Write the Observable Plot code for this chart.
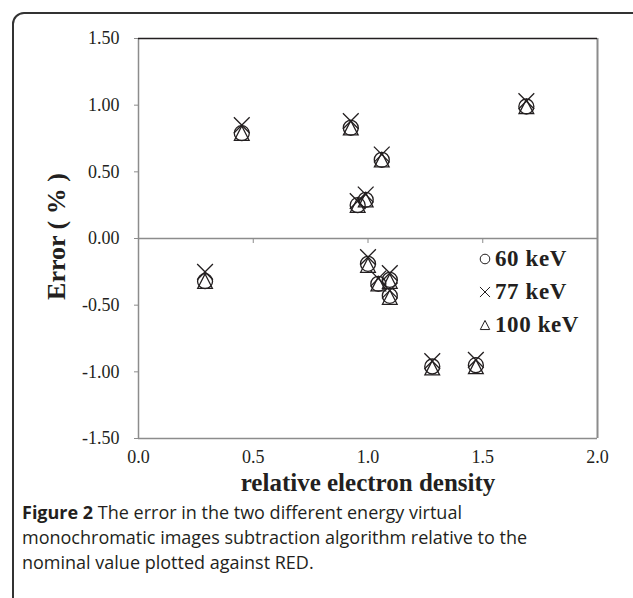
<!DOCTYPE html>
<html>
<head>
<meta charset="utf-8">
<script src="https://cdn.jsdelivr.net/npm/d3@7"></script>
<script src="https://cdn.jsdelivr.net/npm/@observablehq/plot@0.6"></script>
<style>
  html, body { margin: 0; padding: 0; background: #fff; width: 633px; height: 598px; overflow: hidden; }
  #frame { position: absolute; left: 12px; top: 12px; width: 700px; height: 700px; border: 2px solid #333; border-radius: 12px; box-sizing: border-box; }
  #chart { position: absolute; left: 0; top: 0; }
  #legend { position: absolute; left: 478px; top: 242px; font-family: "Liberation Serif", serif; font-weight: bold; font-size: 23px; letter-spacing: 0.6px; color: #231f20; }
  #legend .row { height: 33px; display: flex; align-items: center; white-space: nowrap; }
  #legend svg { margin-right: 3px; }
  #caption { position: absolute; left: 22px; top: 500px; width: 610px; font-family: "Open Sans", sans-serif; font-weight: 500; font-size: 18px; line-height: 25px; color: #231f20; }
  #caption b { font-weight: 700; }
</style>
</head>
<body>
<div id="frame"></div>
<div id="chart"></div>
<div id="legend"></div>
<div id="caption"><b>Figure 2</b> The error in the two different energy virtual<br>monochromatic images subtraction algorithm relative to the<br>nominal value plotted against RED.</div>
<script>
// relative electron density of each insert
const red      = [0.29, 0.45, 0.925, 0.955, 0.99, 1.00, 1.06, 1.045, 1.095, 1.095, 1.28, 1.47, 1.69];
// error (%) per energy
const err60    = [-0.32, 0.79, 0.83, 0.25, 0.29, -0.19, 0.59, -0.34, -0.31, -0.43, -0.96, -0.95, 0.99];
const err77    = [-0.25, 0.85, 0.88, 0.28, 0.33, -0.14, 0.63, -0.30, -0.26, -0.39, -0.92, -0.91, 1.03];
const err100   = [-0.32, 0.79, 0.83, 0.25, 0.29, -0.20, 0.59, -0.34, -0.32, -0.44, -0.97, -0.96, 0.99];
const seriesNames = ["60 keV", "77 keV", "100 keV"];
const xTicks = [0, 0.5, 1.0, 1.5, 2.0];
const yTicks = [-1.5, -1.0, -0.5, 0, 0.5, 1.0, 1.5];
const xLabel = "relative electron density";
const yLabel = "Error ( % )";

// custom marker shapes (bounding-box centred, like spreadsheet markers)
const circleSym = { draw(ctx, size) { const r = Math.sqrt(size / Math.PI); ctx.moveTo(r, 0); ctx.arc(0, 0, r, 0, 2 * Math.PI); } };
const timesSym = { draw(ctx, size) { const r = Math.sqrt(size / Math.PI) * 1.05; ctx.moveTo(-r, -r); ctx.lineTo(r, r); ctx.moveTo(r, -r); ctx.lineTo(-r, r); } };
const triSym = { draw(ctx, size) { const r = Math.sqrt(size / Math.PI); const h = r * 0.95; const w = r * 0.98; ctx.moveTo(0, -h); ctx.lineTo(w, h); ctx.lineTo(-w, h); ctx.closePath(); } };
const symbols = [circleSym, timesSym, triSym];

const rows = [];
[err60, err77, err100].forEach((arr, s) => arr.forEach((v, i) => rows.push({x: red[i], y: v, s: seriesNames[s]})));

const ink = "#231f20";
const axisGray = "#8c8c8c";
const serif = "Liberation Serif, Times New Roman, serif";

const chart = Plot.plot({
  width: 633,
  height: 490,
  marginLeft: 138,
  marginRight: 36,
  marginTop: 38,
  marginBottom: 52,
  style: { fontFamily: serif, fontSize: "18px", color: ink, background: "transparent", overflow: "visible" },
  x: { domain: [0, 2] },
  y: { domain: [-1.5, 1.5] },
  symbol: { domain: seriesNames, range: symbols },
  marks: [
    Plot.ruleY([0], { stroke: axisGray, strokeWidth: 1.3 }),
    Plot.ruleY([-1.5], { stroke: axisGray, strokeWidth: 1.5 }),
    Plot.ruleX([2], { stroke: axisGray, strokeWidth: 2 }),
    Plot.ruleX([0], { stroke: axisGray, strokeWidth: 1.5 }),
    Plot.ruleY([1.5], { stroke: ink, strokeWidth: 1.5 }),
    Plot.ruleX(xTicks.slice(1, -1), { y1: 0, y2: 0, insetBottom: -5, stroke: axisGray }),
    Plot.axisY(yTicks, { tickSize: 4, tickPadding: 15, stroke: axisGray, fill: ink, tickFormat: d => d.toFixed(2).replace("\u2212", "-"), label: null, fontSize: 18 }),
    Plot.axisX(xTicks, { tickSize: 0, tickPadding: 12, fill: ink, tickFormat: d => d.toFixed(1), label: null, fontSize: 18 }),
    Plot.text([yLabel], { frameAnchor: "left", textAnchor: "middle", lineAnchor: "middle", dx: -82, dy: -2, rotate: -90, fontSize: 26, fontWeight: "bold", fill: ink }),
    Plot.text([xLabel], { frameAnchor: "bottom", textAnchor: "middle", lineAnchor: "middle", dy: 44, fontSize: 25, fontWeight: "bold", fill: ink }),
    Plot.dot(rows, { x: "x", y: "y", symbol: "s", r: 7.5, stroke: ink, strokeWidth: 1.3, fill: "none" })
  ]
});
document.getElementById("chart").appendChild(chart);

// legend
const legend = document.getElementById("legend");
const pathFor = sym => { const p = d3.path(); sym.draw(p, Math.PI * 4.8 * 4.8); return p.toString(); };
seriesNames.forEach((name, i) => {
  const row = document.createElement("div");
  row.className = "row";
  row.innerHTML = `<svg width="14" height="14" viewBox="-7 -7 14 14"><path d="${pathFor(symbols[i])}" fill="none" stroke="${ink}" stroke-width="1"/></svg><span>${name}</span>`;
  legend.appendChild(row);
});
</script>
</body>
</html>
